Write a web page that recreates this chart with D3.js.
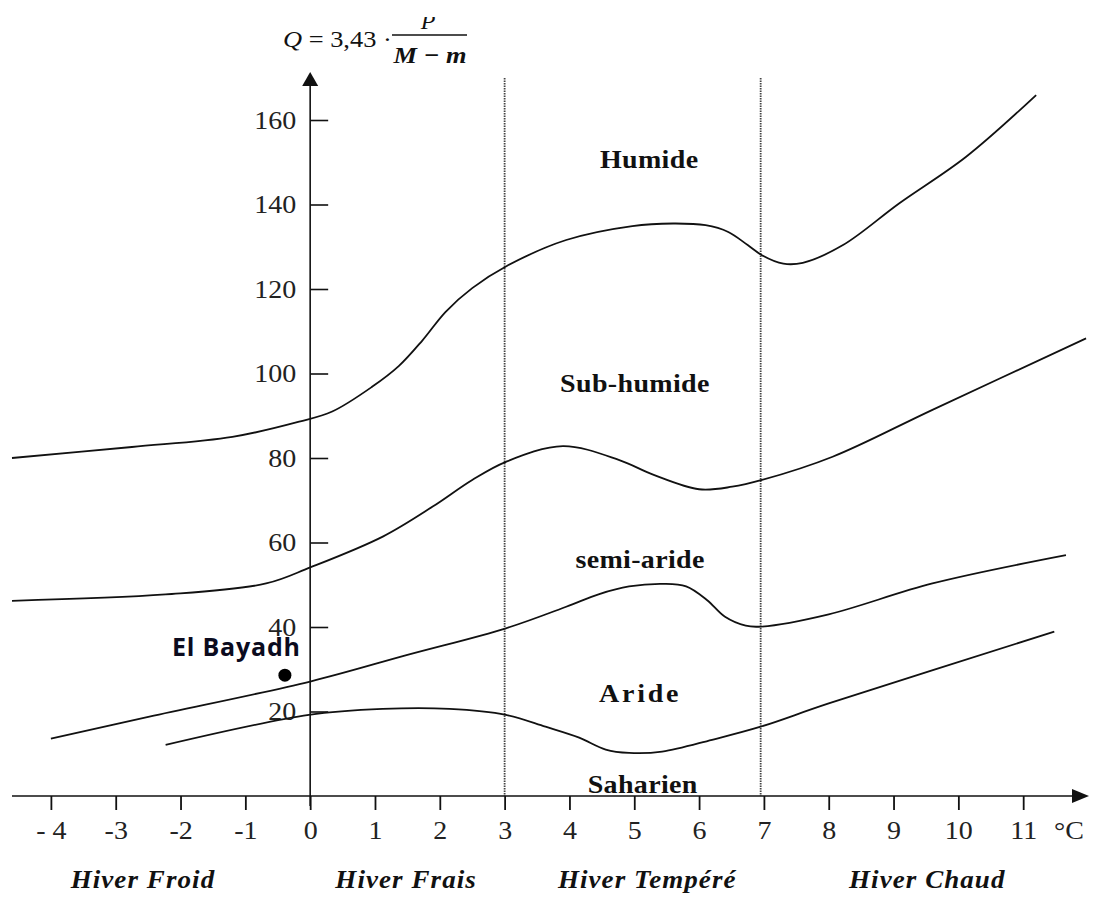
<!DOCTYPE html>
<html>
<head>
<meta charset="utf-8">
<script src="https://cdn.jsdelivr.net/npm/d3@7"></script>
<style>
  body { margin: 0; background: #fff; }
  svg { display: block; }
  .serif { font-family: "Liberation Serif", "Times New Roman", serif; }
</style>
</head>
<body>
<svg id="chart" width="1093" height="921"></svg>
<script>
// temperature (m, °C) / Q2 pairs
const humideLimit = [[-4.6,80],[-2.75,82.6],[-1.2,85],[-0.17,88.6],[0.34,91],[0.96,96.9],[1.37,101.8],[1.73,107.8],[2.09,114.6],[2.5,120.2],[3.04,125.5],[3.95,131.6],[4.97,134.9],[5.6,135.5],[6.1,135.1],[6.45,133.5],[6.75,130.4],[6.97,128],[7.3,126],[7.6,126.2],[8.22,130.4],[9.09,140.3],[10.12,151.3],[11.2,165.9]];
const subHumideLimit = [[-4.6,46.2],[-2.23,47.7],[-0.68,50.3],[0,54.1],[1.12,61.4],[1.89,68.5],[2.5,74.8],[3.02,79.1],[3.9,82.8],[4.77,79.5],[5.3,76],[6.0,72.6],[6.51,73.2],[6.97,74.8],[8.06,80.3],[9.6,91.4],[11.97,108.3]];
const semiArideLimit = [[-4.0,13.6],[-2.48,18.8],[0,27.1],[1.5,33.4],[3.02,39.7],[3.95,44.8],[4.46,47.8],[4.92,49.6],[5.45,50.2],[5.8,49.6],[6.12,46.4],[6.4,42.4],[6.72,40.3],[6.96,40.1],[8.0,43],[9.6,50.3],[11.66,57]];
const arideLimit = [[-2.23,12.1],[-0.02,19.2],[1.12,20.6],[2.15,20.6],[3.02,19.2],[3.63,16.4],[4.15,13.8],[4.56,11],[4.92,10.2],[5.43,10.5],[6.2,13.3],[6.95,16.4],[8.0,21.9],[11.48,38.9]];

const xTicks = [-4,-3,-2,-1,0,1,2,3,4,5,6,7,8,9,10,11];
const yTicks = [20,40,60,80,100,120,140,160];
const winterLimits = [3, 6.95];

const zoneNames = ['Humide','Sub-humide','semi-aride','Aride','Saharien'];
const zoneAt = [[5.23,148.6],[5.01,95.6],[5.09,54],[5.09,22.3],[5.13,0.7]];

const winterNames = ['Hiver Froid','Hiver Frais','Hiver Tempéré','Hiver Chaud'];
const winterAt = [-2.58, 1.48, 5.2, 9.52];

const station = { name: 'El Bayadh', m: -0.39, q: 28.6 };

const svg = d3.select('#chart');
const x = d3.scaleLinear().domain([-4.6, 12]).range([12, 1088]);
const y = d3.scaleLinear().domain([0, 160]).range([796, 120]);
const stretch = 'scale(1.12,1)';

svg.append('rect').attr('width', 1093).attr('height', 921).attr('fill', '#fff');

// dotted winter limits
svg.selectAll('line.limit').data(winterLimits).enter().append('line')
  .attr('class', 'limit')
  .attr('x1', d => x(d)).attr('x2', d => x(d))
  .attr('y1', 78).attr('y2', y(0))
  .attr('stroke', '#444').attr('stroke-width', 1.8)
  .attr('stroke-dasharray', '1.5,1');

// axes
const yAxis = d3.axisLeft(y).tickValues(yTicks).tickSizeInner(-18).tickSizeOuter(0).tickPadding(14);
const gy = svg.append('g').attr('transform', `translate(${x(0)},0)`).call(yAxis);
gy.select('.domain').remove();
gy.selectAll('.tick line').attr('stroke', '#111').attr('stroke-width', 1.6);
gy.selectAll('.tick text').attr('class', 'serif').attr('font-size', 25).attr('fill', '#222')
  .attr('x', 0).attr('transform', 'translate(-14,0) ' + stretch);

const xAxis = d3.axisBottom(x).tickValues(xTicks).tickSizeInner(14).tickSizeOuter(0).tickPadding(11)
  .tickFormat(d => d === -4 ? '- 4' : String(d));
const gx = svg.append('g').attr('transform', `translate(0,${y(0)})`).call(xAxis);
gx.select('.domain').remove();
gx.selectAll('.tick line').attr('stroke', '#111').attr('stroke-width', 1.8);
gx.selectAll('.tick text').attr('class', 'serif').attr('font-size', 25).attr('fill', '#222')
  .attr('y', 0).attr('transform', 'translate(0,25) ' + stretch);

// axis lines with arrows
svg.append('line').attr('x1', 12).attr('x2', 1076).attr('y1', y(0)).attr('y2', y(0))
  .attr('stroke', '#111').attr('stroke-width', 1.6);
svg.append('path').attr('d', `M1089,${y(0)} L1072,${y(0) - 7} L1072,${y(0) + 7} Z`).attr('fill', '#111');
svg.append('line').attr('x1', x(0)).attr('x2', x(0)).attr('y1', 806).attr('y2', 84)
  .attr('stroke', '#111').attr('stroke-width', 1.6);
svg.append('path').attr('d', `M${x(0)},72 L${x(0) - 8},86 L${x(0) + 8},86 Z`).attr('fill', '#111');

svg.append('text').attr('class', 'serif').attr('transform', 'translate(1069,839) ' + stretch)
  .attr('text-anchor', 'middle').attr('font-size', 25).attr('fill', '#222').text('°C');

// limit curves
const line = d3.line().x(d => x(d[0])).y(d => y(d[1])).curve(d3.curveCatmullRom.alpha(0.5));
svg.selectAll('path.curve').data([humideLimit, subHumideLimit, semiArideLimit, arideLimit]).enter()
  .append('path').attr('class', 'curve')
  .attr('d', line).attr('fill', 'none').attr('stroke', '#111').attr('stroke-width', 1.8);

// zone names
svg.selectAll('text.zone').data(zoneNames).enter().append('text')
  .attr('class', 'serif')
  .attr('transform', (d, i) => `translate(${x(zoneAt[i][0])},${y(zoneAt[i][1])}) ${stretch}`)
  .attr('text-anchor', 'middle').attr('font-size', 25).attr('font-weight', 'bold')
  .attr('letter-spacing', d => d === 'Aride' ? 2.5 : 0.3)
  .attr('fill', '#111').text(d => d);

// winter types
svg.selectAll('text.winter').data(winterNames).enter().append('text')
  .attr('class', 'serif')
  .attr('transform', (d, i) => `translate(${x(winterAt[i])},888) scale(1.08,1)`)
  .attr('text-anchor', 'middle').attr('font-size', 25).attr('font-weight', 'bold')
  .attr('font-style', 'italic').attr('letter-spacing', 1).attr('fill', '#111').text(d => d);

// station
svg.append('circle').attr('cx', x(station.m)).attr('cy', y(station.q)).attr('r', 6.5).attr('fill', '#000');
svg.append('text').attr('x', 172).attr('y', 656)
  .attr('font-family', '"Open Sans", sans-serif').attr('font-size', 25).attr('font-weight', 'bold')
  .attr('letter-spacing', 0.8).attr('fill', '#0b0b1e').text(station.name);

// formula
const f = svg.append('g').attr('class', 'serif').attr('fill', '#111');
const t = f.append('text').attr('transform', 'translate(283,47) scale(1.1,1)').attr('font-size', 24);
t.append('tspan').attr('font-style', 'italic').text('Q');
t.append('tspan').text(' = 3,43 ·');
f.append('line').attr('x1', 392).attr('x2', 467).attr('y1', 35).attr('y2', 35).attr('stroke', '#111').attr('stroke-width', 1.4);
f.append('text').attr('transform', 'translate(430,63) scale(1.1,1)').attr('text-anchor', 'middle').attr('font-size', 24)
  .attr('font-weight', 'bold').attr('font-style', 'italic').text('M − m');
svg.append('clipPath').attr('id', 'topcut').append('rect').attr('x', 0).attr('y', 17).attr('width', 1093).attr('height', 40);
f.append('text').attr('x', 428).attr('y', 29).attr('text-anchor', 'middle').attr('font-size', 24)
  .attr('font-style', 'italic').attr('clip-path', 'url(#topcut)').text('P');
</script>
</body>
</html>
